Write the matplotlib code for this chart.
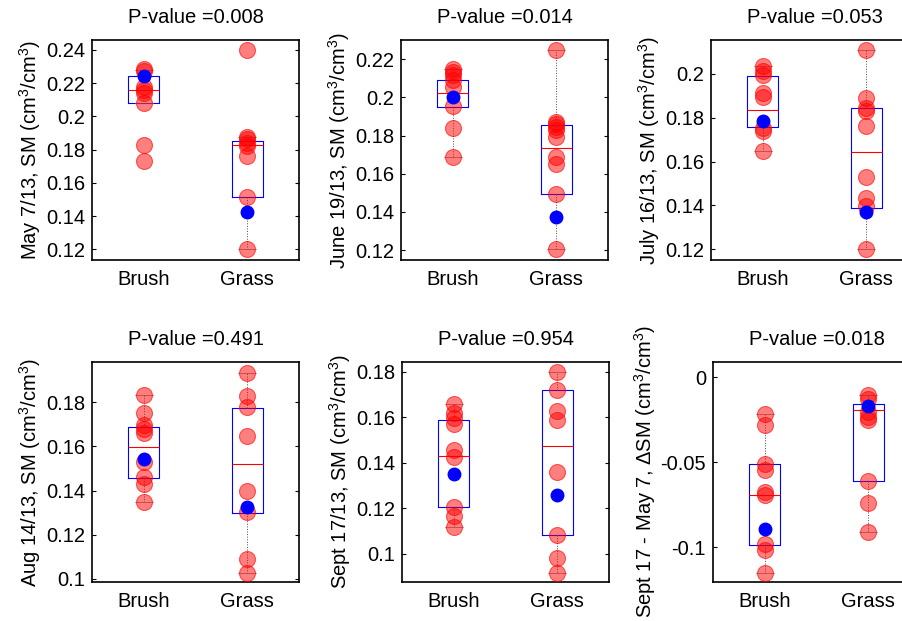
import matplotlib
matplotlib.use('Agg')
import matplotlib.pyplot as plt
from matplotlib.ticker import FuncFormatter

plt.rcParams['font.family'] = ['Liberation Sans', 'DejaVu Sans']
plt.rcParams['mathtext.fontset'] = 'custom'
plt.rcParams['mathtext.rm'] = 'Liberation Sans'
plt.rcParams['font.size'] = 14.5

groups = ['Brush', 'Grass']
titles = ['P-value =0.008', 'P-value =0.014', 'P-value =0.053',
          'P-value =0.491', 'P-value =0.954', 'P-value =0.018']
unit = ' (cm$^3$/cm$^3$)'
ylabels = ['May 7/13, SM' + unit, 'June 19/13, SM' + unit, 'July 16/13, SM' + unit,
           'Aug 14/13, SM' + unit, 'Sept 17/13, SM' + unit,
           'Sept 17 - May 7, \u0394SM' + unit]

# red circles (individual sites)
brush_pts = [
    [0.2286, 0.2274, 0.2175, 0.2157, 0.2139, 0.2081, 0.1828, 0.1734],
    [0.2148, 0.2135, 0.2118, 0.2092, 0.2053, 0.1955, 0.1838, 0.1690],
    [0.2038, 0.2014, 0.1995, 0.1915, 0.1894, 0.1755, 0.1740, 0.1650],
    [0.1833, 0.1750, 0.1697, 0.1677, 0.1662, 0.1529, 0.1461, 0.1430, 0.1350],
    [0.1657, 0.1620, 0.1595, 0.1570, 0.1458, 0.1425, 0.1207, 0.1164, 0.1115],
    [-0.0215, -0.0280, -0.0507, -0.0542, -0.0674, -0.0694, -0.0980, -0.1016, -0.1148],
]
grass_pts = [
    [0.2400, 0.1878, 0.1862, 0.1842, 0.1824, 0.1762, 0.1517, 0.1200],
    [0.2249, 0.1873, 0.1860, 0.1847, 0.1830, 0.1791, 0.1690, 0.1651, 0.1494, 0.1204],
    [0.2110, 0.1889, 0.1843, 0.1831, 0.1764, 0.1528, 0.1433, 0.1399, 0.1200],
    [0.1935, 0.1829, 0.1777, 0.1646, 0.1400, 0.1301, 0.1088, 0.1027],
    [0.1800, 0.1720, 0.1629, 0.1587, 0.1360, 0.1081, 0.0979, 0.0916],
    [-0.0103, -0.0128, -0.0201, -0.0231, -0.0250, -0.0609, -0.0736, -0.0911],
]
# blue dots (highlighted site)
brush_blue = [0.2244, 0.2004, 0.1787, 0.1541, 0.1351, -0.0891]
grass_blue = [0.1423, 0.1371, 0.1372, 0.1324, 0.1258, -0.0166]

# box stats: (whisker low, q1, median, q3, whisker high)
brush_box = [
    (0.2081, 0.2081, 0.2157, 0.2241, 0.2278),
    (0.1690, 0.1952, 0.2022, 0.2090, 0.2148),
    (0.1650, 0.1757, 0.1836, 0.1992, 0.2038),
    (0.1350, 0.1456, 0.1599, 0.1689, 0.1833),
    (0.1115, 0.1204, 0.1430, 0.1587, 0.1657),
    (-0.1148, -0.0986, -0.0694, -0.0509, -0.0215),
]
grass_box = [
    (0.1200, 0.1515, 0.1826, 0.1850, 0.1874),
    (0.1204, 0.1492, 0.1737, 0.1856, 0.2249),
    (0.1200, 0.1387, 0.1646, 0.1843, 0.2110),
    (0.1027, 0.1298, 0.1522, 0.1776, 0.1935),
    (0.0916, 0.1084, 0.1475, 0.1720, 0.1800),
    (-0.0911, -0.0609, -0.0191, -0.0158, -0.0103),
]

ylims = [(0.1136, 0.246), (0.1148, 0.2301), (0.1151, 0.2155),
         (0.0985, 0.1983), (0.0875, 0.1843), (-0.1203, 0.0091)]
yticks = [[0.12, 0.14, 0.16, 0.18, 0.2, 0.22, 0.24],
          [0.12, 0.14, 0.16, 0.18, 0.2, 0.22],
          [0.12, 0.14, 0.16, 0.18, 0.2],
          [0.1, 0.12, 0.14, 0.16, 0.18],
          [0.1, 0.12, 0.14, 0.16, 0.18],
          [-0.1, -0.05, 0]]

W, H = 902.0, 621.0
lefts = [92, 401, 711, 92, 402, 713]
tops = [40, 40, 40, 362, 362, 362]
aw, ah = 207, 220

fig = plt.figure(figsize=(9.02, 6.21), dpi=100)

for i in range(6):
    ax = fig.add_axes([lefts[i] / W, 1 - (tops[i] + ah) / H, aw / W, ah / H])
    stats = []
    for name, b in zip(groups, [brush_box[i], grass_box[i]]):
        stats.append(dict(label=name, whislo=b[0], q1=b[1], med=b[2], q3=b[3], whishi=b[4], fliers=[]))
    ax.bxp(stats, positions=[1, 2], widths=0.3, capwidths=0.17,
           boxprops=dict(color='blue', lw=0.8),
           medianprops=dict(color='red', lw=0.8),
           whiskerprops=dict(color='0.3', lw=0.7, ls=':'),
           capprops=dict(color='0.45', lw=0.5), zorder=2)
    for x, pts in zip([1, 2], [brush_pts[i], grass_pts[i]]):
        ax.plot([x] * len(pts), pts, 'o', ms=11.5, mfc=(1, 0, 0, 0.5),
                mec=(1, 0, 0, 0.6), mew=0.8, zorder=3)
    ax.plot([1, 2], [brush_blue[i], grass_blue[i]], 'o', ms=9, color='blue', mec='blue', zorder=4)

    ax.set_xlim(0.5, 2.5)
    ax.set_ylim(*ylims[i])
    ax.set_yticks(yticks[i])
    ax.yaxis.set_major_formatter(FuncFormatter(lambda v, p: '%g' % v))
    ax.set_xticks([1, 2])
    ax.set_xticklabels(groups)
    ax.tick_params(axis='y', direction='in', length=3, left=True, right=True, width=0.8, pad=5)
    ax.tick_params(axis='x', length=0, pad=7)
    for s in ax.spines.values():
        s.set_linewidth(1.2)
    ax.set_title(titles[i], fontsize=14.5, pad=12)
    ax.set_ylabel(ylabels[i], fontsize=14.5, labelpad=2)

fig.savefig('out.png', dpi=100)
